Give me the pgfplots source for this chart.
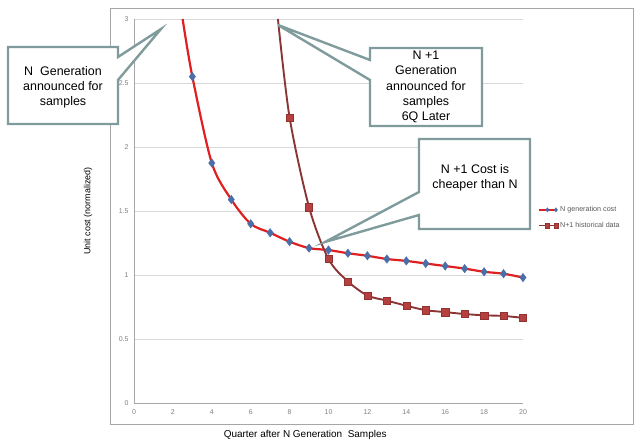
\documentclass[border=0pt]{standalone}
\usepackage{pgfplots}
\pgfplotsset{compat=1.18}
\usepackage{fontspec}
\setmainfont{Liberation Sans}
\definecolor{nred}{HTML}{E02020}
\definecolor{nblue}{HTML}{4A6EA8}
\definecolor{nbrown}{HTML}{8B3535}
\definecolor{nsq}{HTML}{B5403F}
\definecolor{callout}{HTML}{7F9B9B}
\definecolor{gridc}{HTML}{D9D9D9}
\definecolor{axc}{HTML}{A6A6A6}
\begin{document}
\begin{tikzpicture}
\path[use as bounding box] (0bp,0bp) rectangle (640bp,448bp);
% outer chart border
\draw[axc, line width=1bp] (110bp,23bp) rectangle (633bp,439bp);
\begin{axis}[
  at={(134bp,45bp)}, anchor=south west,
  scale only axis, width=389bp, height=384bp,
  xmin=0, xmax=20, ymin=0, ymax=3,
  xtick={0,2,...,20}, ytick={0,0.5,...,3},
  axis x line*=bottom, axis y line*=left,
  axis line style={axc, line width=0.8bp, -},
  ymajorgrids, grid style={gridc, line width=0.8bp},
  major tick length=0pt,
  /pgf/number format/assume math mode=true,
  tick label style={font=\fontsize{7}{8}\selectfont, text=gray},
  xticklabel style={yshift=-3bp},
  yticklabel style={xshift=-2bp},
  xlabel={Quarter after N Generation\ \ Samples},
  ylabel={Unit cost (normalized)},
  xlabel style={at={(axis description cs:0.44,-0.083)}, anchor=center, font=\fontsize{10}{12}\selectfont},
  ylabel style={at={(axis description cs:-0.118,0.5)}, anchor=center, font=\fontsize{9}{11}\selectfont},
  legend style={at={(axis description cs:1.035,0.52)}, anchor=north west, draw=none, fill=none,
    font=\fontsize{7.2}{8.5}\selectfont, text=gray!70!black, row sep=5bp,
    legend cell align=left, inner sep=1bp},
  legend image code/.code={
    \draw[#1, mark repeat=2, mark phase=2] plot coordinates {(0cm,0cm) (0.3cm,0cm) (0.6cm,0cm)};},
  legend image post style={mark size=2.2bp},
  clip=true,
]
\addplot[nred, line width=2.2bp, smooth, tension=0.5,
  mark=diamond*, mark size=4.3bp, mark indices={2,...,19},
  mark options={fill=nblue, draw=nblue, line width=0.3bp}]
  coordinates {(2.5,3.0) (3,2.55) (4,1.875) (5,1.59) (6,1.40) (7,1.33) (8,1.26) (9,1.21)
  (10,1.195) (11,1.17) (12,1.15) (13,1.125) (14,1.11) (15,1.09) (16,1.07) (17,1.05)
  (18,1.025) (19,1.01) (20,0.98)};
\addlegendentry{N generation cost}
\addplot[nbrown, line width=1.9bp, smooth, tension=0.5,
  mark=square*, mark size=3.6bp, mark indices={2,...,14},
  mark options={fill=nsq, draw=nsq!80!black, line width=0.4bp}]
  coordinates {(7.4,3.0) (8,2.23) (9,1.53) (10,1.125) (11,0.95) (12,0.84) (13,0.80)
  (14,0.76) (15,0.725) (16,0.71) (17,0.695) (18,0.685) (19,0.68) (20,0.665)};
\addlegendentry{N+1 historical data}
\end{axis}
% callouts
\begin{scope}[x=1bp, y=1bp, line width=2.4bp, draw=callout, fill=white, line join=miter]
\filldraw (8,401) -- (118,401) -- (118,391) -- (161,419) -- (118,368) -- (118,324) -- (8,324) -- cycle;
\filldraw (370,400) -- (482,400) -- (482,322) -- (370,322) -- (370,368) -- (278,423) -- (370,388) -- cycle;
\filldraw (419,309) -- (530,309) -- (530,219) -- (419,219) -- (419,233) -- (325,206) -- (419,256) -- cycle;
\node[align=center, font=\fontsize{12.5}{15}\selectfont] at (63,361) {N\ \ Generation\\announced for\\samples};
\node[align=center, font=\fontsize{12.5}{15.5}\selectfont] at (426,361) {N +1\\Generation\\announced for\\samples\\6Q Later};
\node[align=center, font=\fontsize{12.5}{15}\selectfont] at (475,270) {N +1 Cost is\\cheaper than N};
\end{scope}
\end{tikzpicture}
\end{document}
